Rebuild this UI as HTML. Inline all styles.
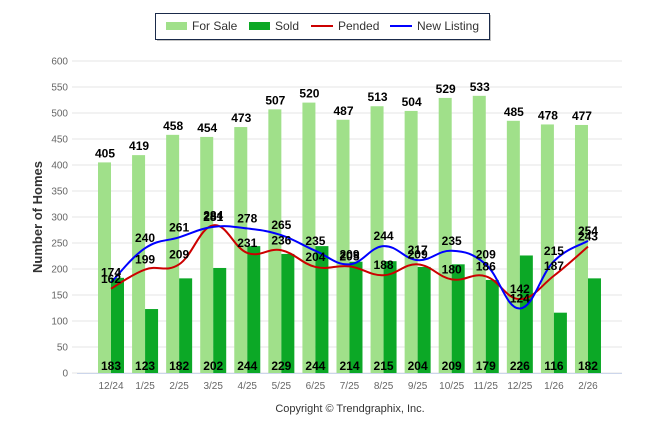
<!DOCTYPE html>
<html><head><meta charset="utf-8"><style>
body{margin:0;background:#fff;width:646px;height:434px;overflow:hidden}
svg{font-family:"Liberation Sans",Arial,sans-serif}
</style></head><body>
<svg id="s" width="646" height="434" xmlns="http://www.w3.org/2000/svg"></svg>
<script>
const fs=[405,419,458,454,473,507,520,487,513,504,529,533,485,478,477];
const so=[183,123,182,202,244,229,244,214,215,204,209,179,226,116,182];
const pe=[162,199,209,284,231,236,204,205,188,209,180,186,142,187,243];
const nl=[174,240,261,281,278,265,235,209,244,217,235,209,124,215,254];
const lab=["12/24","1/25","2/25","3/25","4/25","5/25","6/25","7/25","8/25","9/25","10/25","11/25","12/25","1/26","2/26"];
const Y=v=>373-v*0.52, C=i=>111+i*34.07;
let h='';
for(let v=0;v<=600;v+=50){const y=Y(v);h+=`<line x1="72" x2="622" y1="${y}" y2="${y}" stroke="#e6e6e6"/><text x="68" y="${y+3.5}" font-size="10" fill="#666" text-anchor="end">${v}</text>`;}
h+=`<line x1="77" x2="622" y1="373.5" y2="373.5" stroke="#ccd6eb"/>`;
lab.forEach((l,i)=>{h+=`<text x="${C(i)}" y="389" font-size="10" fill="#666" text-anchor="middle">${l}</text>`});
fs.forEach((v,i)=>{h+=`<rect x="${C(i)-13}" y="${Y(v)}" width="13" height="${v*0.52}" fill="#a0e08a"/>`});
so.forEach((v,i)=>{h+=`<rect x="${C(i)}" y="${Y(v)}" width="13" height="${v*0.52}" fill="#0ca826"/>`});
function path(d){const p=d.map((v,i)=>[C(i),Y(v)]);let s=`M${p[0][0]},${p[0][1]}`;
for(let i=0;i<p.length-1;i++){const p0=p[i-1]||p[i],p1=p[i],p2=p[i+1],p3=p[i+2]||p2;const t=0.2;
s+=` C${p1[0]+(p2[0]-p0[0])*t},${p1[1]+(p2[1]-p0[1])*t} ${p2[0]-(p3[0]-p1[0])*t},${p2[1]-(p3[1]-p1[1])*t} ${p2[0]},${p2[1]}`;}return s;}
h+=`<path d="${path(pe)}" fill="none" stroke="#c00" stroke-width="2"/>`;
h+=`<path d="${path(nl)}" fill="none" stroke="#00f" stroke-width="2"/>`;
const T=(x,y,t)=>`<text x="${x}" y="${y}" font-size="12" font-weight="bold" text-anchor="middle" fill="#000">${t}</text>`;
fs.forEach((v,i)=>h+=T(C(i)-6,Y(v)-5,v));
so.forEach((v,i)=>h+=T(C(i),370,v));
pe.forEach((v,i)=>h+=T(C(i),Y(v)-6,v));
nl.forEach((v,i)=>h+=T(C(i),Y(v)-6,v));
h+=`<text transform="translate(42,217) rotate(-90)" font-size="13" font-weight="bold" fill="#333" text-anchor="middle">Number of Homes</text>`;
h+=`<text x="350" y="412" font-size="11" fill="#333" text-anchor="middle">Copyright © Trendgraphix, Inc.</text>`;
h+=`<rect x="157" y="15" width="334" height="26" fill="#888" opacity="0.5"/><rect x="155.5" y="13.5" width="334" height="26" fill="#fff" stroke="#1a2a4a"/>`;
h+=`<rect x="166" y="22" width="21" height="8" fill="#a0e08a"/><text x="192" y="30" font-size="12" fill="#333">For Sale</text>`;
h+=`<rect x="249" y="22" width="21" height="8" fill="#0ca826"/><text x="275" y="30" font-size="12" fill="#333">Sold</text>`;
h+=`<line x1="311" x2="333" y1="26" y2="26" stroke="#c00" stroke-width="2"/><text x="338" y="30" font-size="12" fill="#333">Pended</text>`;
h+=`<line x1="390" x2="412" y1="26" y2="26" stroke="#00f" stroke-width="2"/><text x="417" y="30" font-size="12" fill="#333">New Listing</text>`;
document.getElementById('s').innerHTML=h;
</script>
</body></html>
